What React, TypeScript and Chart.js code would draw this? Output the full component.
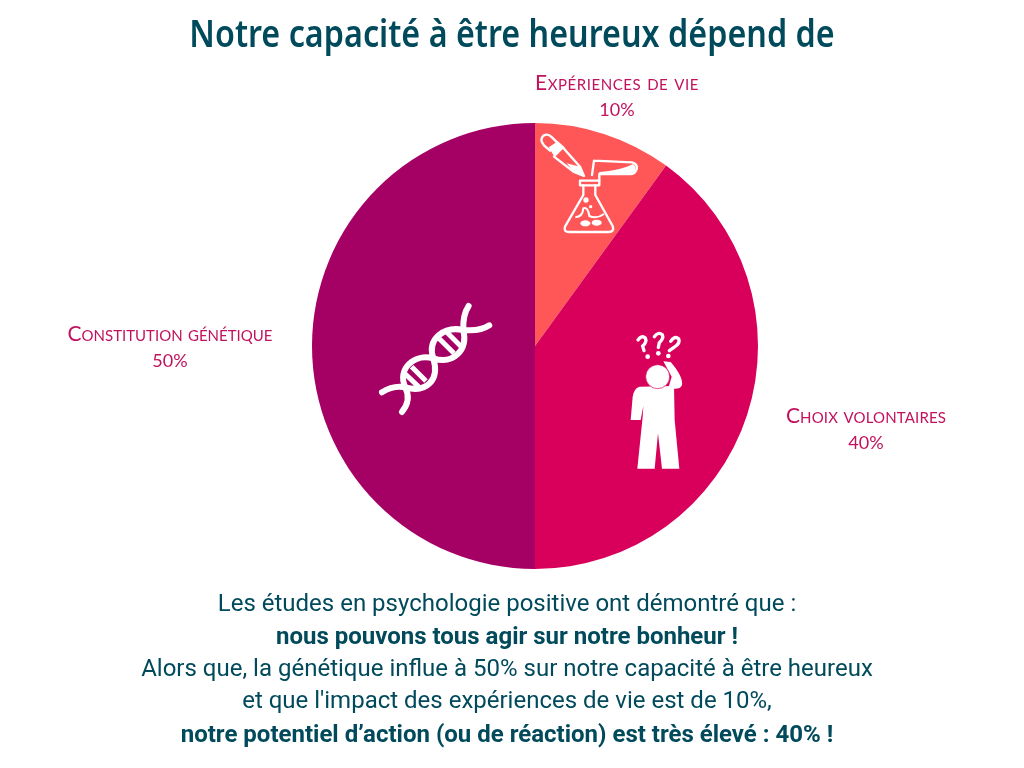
import React, { useEffect, useRef } from "react";
import { Chart, registerables } from "chart.js";

Chart.register(...registerables);

const categories = ["Expériences de vie", "Choix volontaires", "Constitution génétique"];
const shares = [10, 40, 50];
const sliceColors = ["#FF5757", "#D9005B", "#A50064"];
const titleText = "Notre capacité à être heureux dépend de";
const bodyLines = [
  "Les études en psychologie positive ont démontré que :",
  "nous pouvons tous agir sur notre bonheur !",
  "Alors que, la génétique influe à 50% sur notre capacité à être heureux",
  "et que l'impact des expériences de vie est de 10%,",
  "notre potentiel d’action (ou de réaction) est très élevé : 40% !",
];
const boldLines = [false, true, false, false, true];
const bodyTops = [587, 620, 652, 684, 718];
const labelCentres = [[617, 82], [866, 415], [170, 333]];
const labelSpacing = [0.55, 0.15, 0];

const TEAL = "#004A5C";
const LABEL = "#C2125E";

const abs: React.CSSProperties = { position: "absolute", whiteSpace: "nowrap" };

function Dna() {
  return (
    <g transform="translate(50,300) scale(0.3333)" fill="none" stroke="#fff" strokeLinecap="round">
      <path strokeWidth="18" d="M996 277 Q1030 255 1066 262 C1130 280 1170 240 1150 175 C1130 115 1185 78 1240 90 Q1290 95 1318 76" />
      <path strokeWidth="18" d="M1056 336 Q1085 300 1066 262 C1040 205 1095 160 1150 175 C1210 195 1255 150 1240 90 Q1238 45 1256 18" />
      <path strokeWidth="15" strokeLinecap="butt" d="M1085 200 L1128 243 M1066 222 L1108 262 M1168 116 L1212 160 M1192 98 L1234 140" />
    </g>
  );
}

function Person() {
  return (
    <g transform="translate(600,320) scale(0.3333)">
      <path fill="#fff" d="M118 200 L222 198 L224 300 L238 446 L186 446 L174 340 L164 446 L112 446 L128 290 L130 258 L122 300 L92 300 L98 230 Q102 205 118 200 Z" />
      <path fill="#fff" d="M190 124 L212 126 Q250 170 246 195 Q240 212 205 204 L215 170 Z" />
      <circle cx="173" cy="170" r="36" fill="#fff" stroke="#D9005B" strokeWidth="2" />
      <g fill="none" stroke="#fff" strokeWidth="10" strokeLinecap="round">
        <path d="M114 60 Q125 44 136 54 Q142 66 128 78 L132 92" />
        <path d="M163 50 Q175 34 187 44 Q192 56 178 68 L175 82" />
        <path d="M212 64 Q224 46 236 56 Q242 70 222 82 L208 92" />
      </g>
      <g fill="#fff">
        <circle cx="143" cy="110" r="7" />
        <circle cx="175" cy="100" r="7" />
        <circle cx="205" cy="108" r="7" />
      </g>
    </g>
  );
}

function Lab() {
  return (
    <g transform="translate(500,60) scale(0.3333)">
      <g fill="none" stroke="#fff" strokeWidth="7" strokeLinejoin="round" strokeLinecap="round">
        <path d="M125 245 Q122 228 138 224 Q146 222 156 232 L172 248 L150 272 L132 256 Z" />
        <path d="M190 264 L240 320 L252 348 L222 336 L162 290" />
        <path d="M240 362 L298 362 L298 376 L240 376 Z" />
        <path d="M250 376 L250 405 L195 500 Q190 516 208 516 L326 516 Q344 516 338 498 L286 405 L286 376" />
        <path d="M282 302 L396 307 Q414 312 410 328 Q404 344 388 342 L298 342 L298 360 M282 302 L276 345" />
      </g>
      <path fill="#fff" d="M146 262 L174 244 L194 262 L164 292 Z M200 310 L240 320 L252 350 L222 336 Z M298 336 Q360 332 400 312 Q418 330 392 342 L298 342 Z" />
      <g fill="#fff">
        <ellipse cx="256" cy="490" rx="15" ry="9" />
        <ellipse cx="290" cy="488" rx="15" ry="9" />
        <circle cx="258" cy="420" r="8" />
        <circle cx="272" cy="440" r="5" />
      </g>
      <path fill="none" stroke="#fff" strokeWidth="6" d="M226 472 Q248 470 250 445 Q264 440 268 468 Q290 478 312 462" />
    </g>
  );
}

export default function App() {
  const ref = useRef<HTMLCanvasElement | null>(null);

  useEffect(() => {
    if (!ref.current) return;
    const chart = new Chart(ref.current, {
      type: "pie",
      data: {
        labels: categories,
        datasets: [{ data: shares, backgroundColor: sliceColors, borderWidth: 0 }],
      },
      options: {
        responsive: false,
        animation: false,
        layout: { padding: { left: 312, right: 266, top: 123, bottom: 199 } },
        plugins: { legend: { display: false }, tooltip: { enabled: false }, title: { display: false } },
      },
    });
    return () => chart.destroy();
  }, []);

  return (
    <div style={{ position: "absolute", left: 0, top: 0, width: 1024, height: 768, background: "#fff", overflow: "hidden" }}>
      <canvas ref={ref} width={1024} height={768} style={{ position: "absolute", left: 0, top: 0, width: 1024, height: 768 }} />
      <svg width={1024} height={768} style={{ position: "absolute", left: 0, top: 0 }}>
        <Dna />
        <Person />
        <Lab />
      </svg>
      <div
        style={{
          ...abs,
          left: 0,
          width: 1024,
          top: 8,
          textAlign: "center",
          fontFamily: "'Noto Sans', sans-serif",
          fontWeight: 600,
          fontSize: 38,
          lineHeight: "48px",
          color: TEAL,
          transform: "scaleX(0.85)",
        }}
      >
        {titleText}
      </div>
      {categories.map((c, i) => (
        <div
          key={c}
          style={{
            ...abs,
            left: labelCentres[i][0] - 150,
            width: 300,
            top: labelCentres[i][1] - 13,
            textAlign: "center",
            fontFamily: "Lato, sans-serif",
            fontVariant: "small-caps",
            fontSize: 21,
            lineHeight: "26px",
            color: LABEL,
          }}
        >
          <span style={{ letterSpacing: labelSpacing[i] }}>{c}</span>
          <br />
          <span style={{ fontVariant: "normal", fontSize: 18 }}>{shares[i]}%</span>
        </div>
      ))}
      {bodyLines.map((t, i) => (
        <div
          key={t}
          style={{
            ...abs,
            left: 0,
            width: 1014,
            top: bodyTops[i],
            textAlign: "center",
            fontFamily: "Roboto, sans-serif",
            fontSize: 24,
            lineHeight: "32px",
            fontWeight: boldLines[i] ? 700 : 400,
            color: TEAL,
          }}
        >
          {t}
        </div>
      ))}
    </div>
  );
}
